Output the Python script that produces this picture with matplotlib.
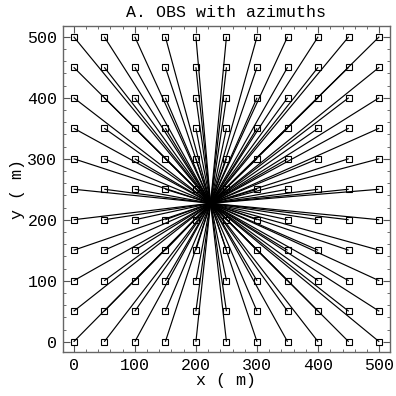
import numpy as np
import matplotlib
matplotlib.use('Agg')
import matplotlib.pyplot as plt
from matplotlib.ticker import MultipleLocator

# OBS grid (m) and the common point the azimuth lines point to
obs_x = [0, 50, 100, 150, 200, 250, 300, 350, 400, 450, 500]
obs_y = [0, 50, 100, 150, 200, 250, 300, 350, 400, 450, 500]
src_x, src_y = 224, 227

plt.rcParams['font.family'] = ['Liberation Mono', 'DejaVu Sans Mono']
plt.rcParams['font.size'] = 12

fig = plt.figure(figsize=(3.96, 3.96), dpi=100)
ax = fig.add_axes([0.159, 0.110, 0.825, 0.825])

gx, gy = np.meshgrid(obs_x, obs_y)
gx, gy = gx.ravel(), gy.ravel()

# azimuth lines from every station
for x, y in zip(gx, gy):
    ax.plot([x, src_x], [y, src_y], color='black', lw=0.85, solid_capstyle='butt')

ax.plot(gx, gy, ls='none', marker='s', ms=5, mfc='none', mec='black', mew=0.8)

ax.set_xlim(-17.5, 517)
ax.set_ylim(-17.5, 518)
ax.xaxis.set_major_locator(MultipleLocator(100))
ax.yaxis.set_major_locator(MultipleLocator(100))
ax.xaxis.set_minor_locator(MultipleLocator(20))
ax.yaxis.set_minor_locator(MultipleLocator(20))
ax.tick_params(which='both', direction='in', top=True, right=True, color='#555555')
ax.tick_params(which='major', length=5, width=0.8, pad=4)
ax.tick_params(which='minor', length=2.5, width=0.6)
for s in ax.spines.values():
    s.set_color('#666666')
    s.set_linewidth(1.0)

ax.set_title('A. OBS with azimuths', fontsize=12, pad=6)
ax.set_xlabel('x ( m)', labelpad=0)
ax.set_ylabel('y ( m)', labelpad=2)

fig.savefig('out.png', dpi=100)
